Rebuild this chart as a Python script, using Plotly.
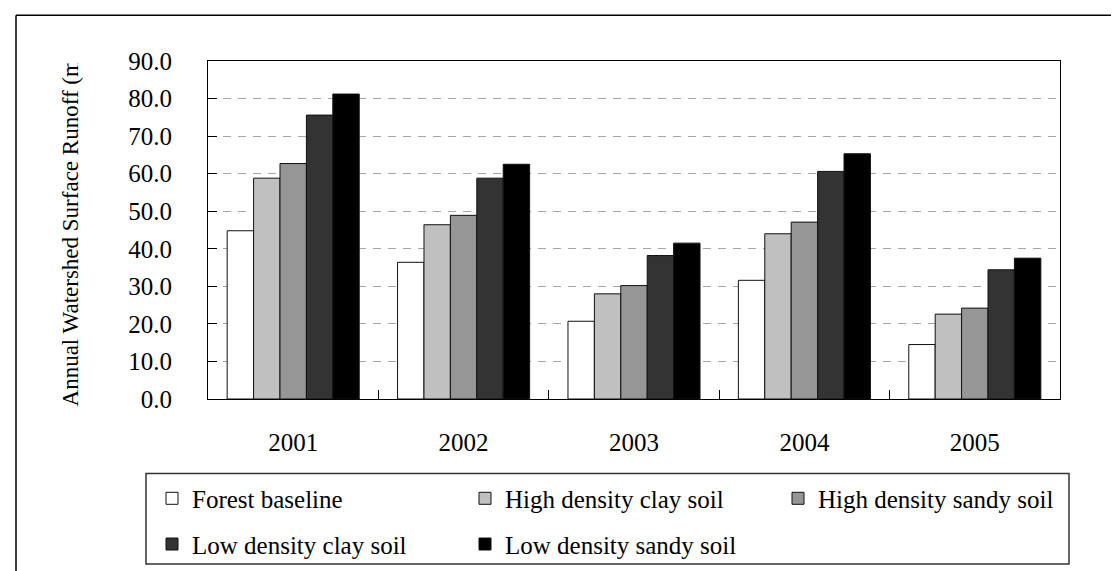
import plotly.graph_objects as go

years = ["2001", "2002", "2003", "2004", "2005"]
series_names = ["Forest baseline", "High density clay soil", "High density sandy soil",
                "Low density clay soil", "Low density sandy soil"]
forest_baseline = [44.8, 36.4, 20.7, 31.6, 14.5]
high_density_clay = [58.8, 46.4, 28.0, 44.0, 22.6]
high_density_sandy = [62.7, 48.9, 30.2, 47.1, 24.2]
low_density_clay = [75.6, 58.8, 38.2, 60.6, 34.4]
low_density_sandy = [81.2, 62.5, 41.5, 65.3, 37.5]
y_ticks = [0, 10, 20, 30, 40, 50, 60, 70, 80, 90]

values = [forest_baseline, high_density_clay, high_density_sandy, low_density_clay, low_density_sandy]
colors = ["#FFFFFF", "#C0C0C0", "#969696", "#333333", "#000000"]
legends = ["legend", "legend", "legend", "legend2", "legend2"]

FONT = "Liberation Serif, Times New Roman, serif"

fig = go.Figure()
for name, vals, col, lg in zip(series_names, values, colors, legends):
    fig.add_trace(go.Bar(
        x=years, y=vals, name=name, legend=lg,
        marker=dict(color=col, line=dict(color="#111111", width=1)),
    ))

W, H = 1119, 571
L, R, T, B = 200, 67, 53, 178
pw, ph = W - L - R, H - T - B

def px(X):
    return (X - L) / pw

def py(Y):
    return (H - B - Y) / ph

legend_common = dict(
    orientation="h", xanchor="left", yanchor="top",
    font=dict(family=FONT, size=25, color="black"),
    bgcolor="rgba(0,0,0,0)", borderwidth=0,
    entrywidth=268, entrywidthmode="pixels",
    itemclick=False, itemdoubleclick=False,
)

fig.update_layout(
    width=W, height=H,
    margin=dict(l=L, r=R, t=T, b=B),
    paper_bgcolor="white", plot_bgcolor="white",
    barmode="group", bargap=0.225, bargroupgap=0,
    font=dict(family=FONT, size=25, color="black"),
    legend=dict(x=px(144), y=py(470), **legend_common),
    legend2=dict(x=px(144), y=py(516), **legend_common),
    xaxis=dict(
        type="category", showline=True, linecolor="black", linewidth=1, mirror=True,
        ticks="inside", tickson="boundaries", ticklen=9, tickcolor="black", tickwidth=1,
        ticklabelstandoff=21, showgrid=False,
        tickfont=dict(family=FONT, size=25, color="black"),
    ),
    yaxis=dict(
        range=[0, 90], tickvals=y_ticks, tickformat=".1f",
        showline=True, linecolor="black", linewidth=1, mirror=True,
        ticks="inside", ticklen=9, tickcolor="black", tickwidth=1,
        ticklabelstandoff=30,
        showgrid=True, gridcolor="#A6A6A6", gridwidth=1, griddash="8px,7px",
        zeroline=False,
        tickfont=dict(family=FONT, size=25, color="black"),
    ),
    shapes=[
        # outer chart frame (top and left edges visible)
        dict(type="line", xref="paper", yref="paper", x0=px(8), x1=px(1130), y0=py(7), y1=py(7),
             line=dict(color="black", width=1.5)),
        dict(type="line", xref="paper", yref="paper", x0=px(8), x1=px(8), y0=py(7), y1=py(580),
             line=dict(color="black", width=1.5)),
        # legend box
        dict(type="rect", xref="paper", yref="paper", x0=px(138), x1=px(1061), y0=py(468), y1=py(559),
             line=dict(color="#333333", width=1.5), fillcolor="rgba(0,0,0,0)", layer="below"),
    ],
    annotations=[
        dict(text="Annual Watershed Surface Runoff (mm)", textangle=-90,
             xref="paper", yref="paper", x=px(63), y=py(228.5),
             xanchor="center", yanchor="middle", showarrow=False,
             width=343, height=30, align="left",
             font=dict(family=FONT, size=23, color="black")),
    ],
)

fig.write_html("out.html")
